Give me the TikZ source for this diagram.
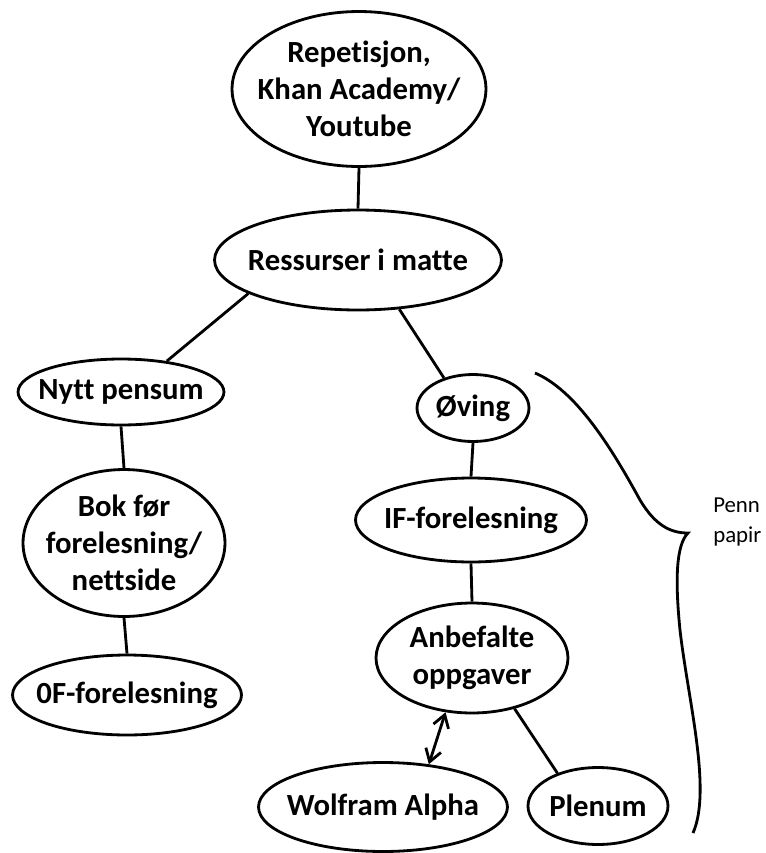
\documentclass[tikz,border=0pt]{standalone}
\usepackage{fontspec}
\setmainfont{Carlito}[Ligatures=NoCommon]
\usetikzlibrary{shapes.geometric,arrows.meta}

\tikzset{
	bubble/.style={draw, ellipse, inner sep=0pt},
	caption/.style={font=\bfseries\fontsize{17.5}{21}\selectfont, align=center},
	barb/.tip={Straight Barb[length=7pt,width=9pt]},
}

\begin{document}
\begin{tikzpicture}[x=0.02cm,y=-0.02cm,line width=1.6pt]
	\useasboundingbox (0,0) rectangle (766,853);
	% the bubbles, text set as a centred label so the ellipse keeps its size
	\node[bubble, minimum width=5.08cm, minimum height=3.1cm, label={[caption]center:{Repetisjon,\\Khan Academy/\\Youtube}}] (rep) at (359,89) {};
	\node[bubble, minimum width=5.74cm, minimum height=2cm, label={[caption]center:Ressurser i matte}] (res) at (358,260) {};
	\node[bubble, minimum width=4.12cm, minimum height=1.32cm, label={[caption]center:Nytt pensum}] (pensum) at (121,392) {};
	\node[bubble, minimum width=2.24cm, minimum height=1.34cm, label={[caption]center:Øving}] (oving) at (473,408) {};
	\node[bubble, minimum width=4.04cm, minimum height=2.94cm, label={[caption]center:{Bok før\\forelesning/\\nettside}}] (bok) at (124,543) {};
	\node[bubble, minimum width=4.62cm, minimum height=1.68cm, label={[caption]center:IF-forelesning}] (iff) at (471,520) {};
	\node[bubble, minimum width=3.84cm, minimum height=2.2cm, label={[caption]center:{Anbefalte\\oppgaver}}] (anb) at (472,658) {};
	\node[bubble, minimum width=4.58cm, minimum height=1.6cm, label={[caption]center:0F-forelesning}] (off) at (127,695) {};
	\node[bubble, minimum width=4.98cm, minimum height=1.78cm, label={[caption]center:Wolfram Alpha}] (wolfram) at (383,807) {};
	\node[bubble, minimum width=2.8cm, minimum height=1.54cm, label={[caption]center:Plenum}] (plenum) at (598,806) {};

	% connectors
	\foreach \from/\to in {rep/res, pensum/bok, bok/off, oving/iff, iff/anb}
		\draw (\from.south) -- (\to.north);
	\draw (res.197) -- (pensum.34);
	\draw (res.-50) -- (oving.134);
	\draw (anb.-50) -- (plenum.141);
	\draw[barb-barb] (anb.-116) -- (wolfram.43);

	% brace round the right-hand branch
	\draw (535,373) .. controls (575,390) and (610,445) .. (640,500)
		.. controls (655,525) and (670,533) .. (688,533)
		.. controls (676,545) and (675,580) .. (680,630)
		.. controls (688,700) and (712,790) .. (693,833);
	\node[anchor=west, align=left, font=\fontsize{13}{17}\selectfont] (pen) at (706,522) {Penn\\papir};
\end{tikzpicture}
\end{document}
